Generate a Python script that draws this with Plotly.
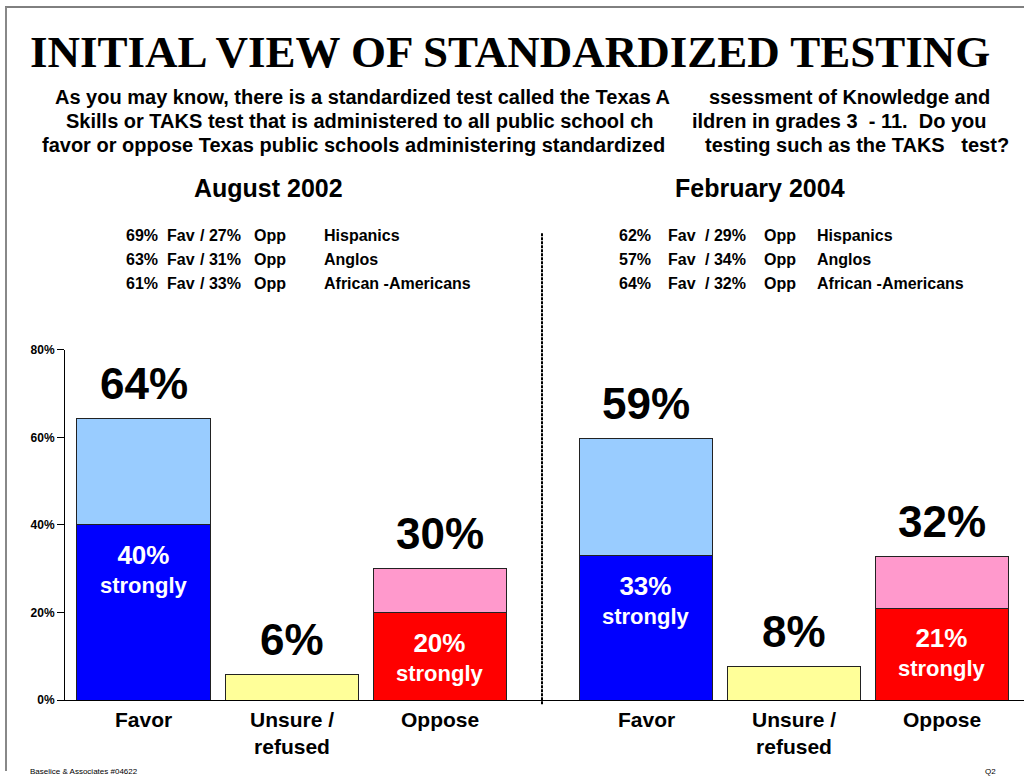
import plotly.graph_objects as go

# ---------------- data ----------------
categories = ["Favor", "Unsure /<br>refused", "Oppose"]
x_pos = [0, 1, 2]

base_2002 = [40, 5.9, 20]          # strongly favor / unsure / strongly oppose
top_2002 = [24.2, None, 10]        # somewhat favor / - / somewhat oppose
base_2004 = [33, 7.7, 21]
top_2004 = [26.7, None, 11.9]

total_labels_2002 = ["64%", "6%", "30%"]
total_labels_2004 = ["59%", "8%", "32%"]
strong_labels_2002 = ["40%", None, "20%"]
strong_labels_2004 = ["33%", None, "21%"]

groups = ["Hispanics", "Anglos", "African -Americans"]
fav_2002 = [69, 63, 61]
opp_2002 = [27, 31, 33]
fav_2004 = [62, 57, 64]
opp_2004 = [29, 34, 32]

y_ticks = [0, 20, 40, 60, 80]
panel_titles = ["August 2002", "February 2004"]

base_colors = ["#0000FF", "#FFFF99", "#FF0000"]
top_colors = ["#99CCFF", "#FFFF99", "#FF99CC"]

W, H = 1024, 778
FONT = "Liberation Sans, Arial, sans-serif"


def px(p):
    return p / W


def py(p):
    # map a target pixel row to paper coords (compensates observed vertical offset)
    q = (p - 7) / 0.983
    return 1 - q / H


fig = go.Figure()

panels = [
    ("x", "y", base_2002, top_2002, total_labels_2002, strong_labels_2002),
    ("x2", "y2", base_2004, top_2004, total_labels_2004, strong_labels_2004),
]

annotations = []
for xa, ya, base, top, tot_lab, str_lab in panels:
    fig.add_trace(go.Bar(
        x=x_pos, y=base, xaxis=xa, yaxis=ya, width=0.9,
        marker=dict(color=base_colors, line=dict(color="#222222", width=1)),
        hoverinfo="skip",
    ))
    fig.add_trace(go.Bar(
        x=x_pos, y=top, xaxis=xa, yaxis=ya, width=0.9,
        marker=dict(color=top_colors, line=dict(color="#222222", width=1)),
        hoverinfo="skip",
    ))
    for i, xv in enumerate(x_pos):
        total = base[i] + (top[i] or 0)
        annotations.append(dict(
            x=xv, y=total, xref=xa, yref=ya, text="<b>%s</b>" % tot_lab[i],
            showarrow=False, yanchor="middle", yshift=35,
            font=dict(family=FONT, size=44, color="black"),
        ))
        if str_lab[i]:
            annotations.append(dict(
                x=xv, y=base[i], xref=xa, yref=ya,
                text="<b><span style='font-size:26px'>%s</span><br>strongly</b>" % str_lab[i],
                showarrow=False, yanchor="middle", yshift=-44,
                font=dict(family=FONT, size=22, color="white"),
            ))
        annotations.append(dict(
            x=xv, y=0, xref=xa, yref=ya, text="<b>%s</b>" % categories[i],
            showarrow=False, yanchor="top", yshift=-6,
            font=dict(family=FONT, size=21, color="black"),
        ))

# title and question
annotations.append(dict(
    x=px(510), y=py(52), xref="paper", yref="paper",
    text="<b>INITIAL VIEW OF STANDARDIZED TESTING</b>", showarrow=False,
    xanchor="center", yanchor="middle",
    font=dict(family="Liberation Serif, Times New Roman, serif", size=45, color="black"),
))
q_left = [
    "As you may know, there is a standardized test called the Texas A",
    "Skills or TAKS test that is administered to all public school ch",
    "favor or oppose Texas public schools administering standardized",
]
q_right = [
    "ssessment of Knowledge and",
    "ildren in grades 3 &nbsp;- 11. &nbsp;Do you",
    "testing such as the TAKS &nbsp;&nbsp;test?",
]
q_left_end = [672, 656, 667]
q_right_start = [707, 690, 703]
for i in range(3):
    yy = py(97 + 24 * i)
    annotations.append(dict(
        x=px(q_left_end[i]), y=yy, xref="paper", yref="paper",
        text="<b>%s</b>" % q_left[i], showarrow=False,
        xanchor="right", yanchor="middle",
        font=dict(family=FONT, size=20, color="black"),
    ))
    annotations.append(dict(
        x=px(q_right_start[i]), y=yy, xref="paper", yref="paper",
        text="<b>%s</b>" % q_right[i], showarrow=False,
        xanchor="left", yanchor="middle",
        font=dict(family=FONT, size=20, color="black"),
    ))

# panel titles
for t, cx in zip(panel_titles, [268, 760]):
    annotations.append(dict(
        x=px(cx), y=py(188), xref="paper", yref="paper",
        text="<b>%s</b>" % t, showarrow=False,
        xanchor="center", yanchor="middle",
        font=dict(family=FONT, size=25, color="black"),
    ))

# subgroup results
col_left = [124, 165, 198, 252, 322]
col_right = [617, 666, 703, 762, 815]
for cols, fav, opp in [(col_left, fav_2002, opp_2002), (col_right, fav_2004, opp_2004)]:
    for i, g in enumerate(groups):
        parts = ["%d%%" % fav[i], "Fav", "/ %d%%" % opp[i], "Opp", g]
        for cx, part in zip(cols, parts):
            annotations.append(dict(
                x=px(cx), y=py(236 + 24 * i), xref="paper", yref="paper",
                text="<b>%s</b>" % part, showarrow=False,
                xanchor="left", yanchor="middle",
                font=dict(family=FONT, size=16, color="black"),
            ))

# footer
annotations.append(dict(
    x=px(28), y=py(772), xref="paper", yref="paper",
    text="Baselice & Associates #04622", showarrow=False,
    xanchor="left", yanchor="middle",
    font=dict(family=FONT, size=8, color="black"),
))
annotations.append(dict(
    x=px(990), y=py(772), xref="paper", yref="paper",
    text="Q2", showarrow=False, xanchor="center", yanchor="middle",
    font=dict(family=FONT, size=8, color="black"),
))

shapes = [
    dict(type="line", xref="paper", yref="paper", x0=px(542), x1=px(542),
         y0=py(705), y1=py(233), line=dict(color="black", width=2, dash="3px,1px")),
    dict(type="line", xref="paper", yref="paper", x0=px(5), x1=1,
         y0=py(7), y1=py(7), line=dict(color="black", width=1)),
    dict(type="line", xref="paper", yref="paper", x0=px(6), x1=px(6),
         y0=py(7), y1=0, line=dict(color="#888888", width=2)),
]

ydom = [py(701), py(350)]
fig.update_layout(
    width=W, height=H, autosize=False,
    margin=dict(l=0, r=0, t=0, b=0),
    paper_bgcolor="white", plot_bgcolor="white",
    barmode="stack", showlegend=False,
    xaxis=dict(domain=[px(65), px(542)], range=[-0.53, 2.688], anchor="y",
               showline=True, linecolor="black", linewidth=1, showticklabels=False,
               ticks="", showgrid=False, zeroline=False, fixedrange=True),
    yaxis=dict(domain=ydom, range=[0, 80], anchor="x",
               showline=True, linecolor="black", linewidth=1,
               ticks="outside", ticklen=7, tickcolor="black",
               tickvals=y_ticks, ticktext=["<b>%d%%</b>" % v for v in y_ticks],
               tickfont=dict(family=FONT, size=12, color="black"),
               showgrid=False, zeroline=False, fixedrange=True),
    xaxis2=dict(domain=[px(542), 1], range=[-0.704, 2.558], anchor="y2",
                showline=True, linecolor="black", linewidth=1, showticklabels=False,
                ticks="", showgrid=False, zeroline=False, fixedrange=True),
    yaxis2=dict(domain=ydom, range=[0, 80], anchor="x2", visible=False,
                showgrid=False, zeroline=False, fixedrange=True),
    annotations=annotations,
    shapes=shapes,
)

post = (
    "document.documentElement.style.margin='0';"
    "document.body.style.margin='0';document.body.style.padding='0';"
    "document.body.style.overflow='hidden';"
    "var gd=document.getElementById('{plot_id}');"
    "gd.style.position='absolute';gd.style.left='0px';gd.style.top='0px';"
)
fig.write_html("out.html", post_script=post,
               config={"displayModeBar": False, "responsive": False})
